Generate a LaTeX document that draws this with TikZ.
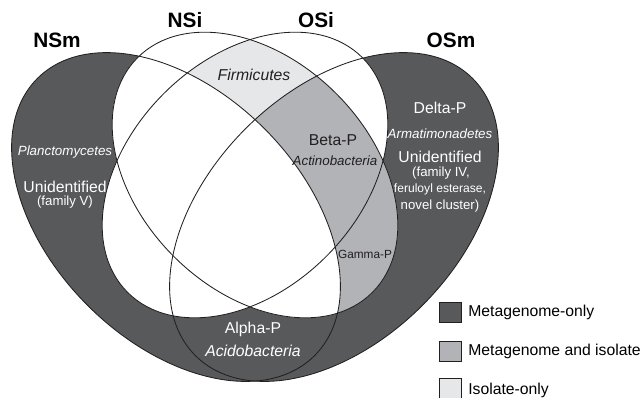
\documentclass[tikz,border=0pt]{standalone}
\usepackage{fontspec}
\setmainfont{Liberation Sans}
\definecolor{metaonly}{HTML}{58595B}
\definecolor{metaiso}{HTML}{B1B3B6}
\definecolor{isoonly}{HTML}{E6E7E8}
\definecolor{ink}{HTML}{231F20}
\newcommand{\ellNSm}{(176,217) ellipse [x radius=196, y radius=125]}
\newcommand{\ellOSm}{(334,217) ellipse [x radius=196, y radius=125]}
\newcommand{\ellNSi}{(255,175) ellipse [x radius=166, y radius=115]}
\newcommand{\ellOSi}{(245,175) ellipse [x radius=166, y radius=115]}

\begin{document}
\begin{tikzpicture}[x=0.025cm, y=-0.025cm,
  nsm/.style={rotate around={-45:(176,217)}},
  osm/.style={rotate around={45:(334,217)}},
  nsi/.style={rotate around={-45:(255,175)}},
  osi/.style={rotate around={45:(245,175)}},
  rim/.style={draw=ink, line width=0.6pt},
  setlab/.style={anchor=base, inner sep=0pt, font=\fontsize{14.8}{16}\selectfont\bfseries},
  big/.style={anchor=base, inner sep=0pt, font=\fontsize{11.2}{13}\selectfont},
  small/.style={anchor=base, inner sep=0pt, font=\fontsize{9.4}{11}\selectfont},
  legbox/.style={draw=ink, line width=0.5pt, minimum width=0.55cm, minimum height=0.5cm, inner sep=0pt}]
\useasboundingbox (0,0) rectangle (643,397);
\clip (0,0) rectangle (643,397);
\fill[metaonly, nsm] \ellNSm;
\fill[metaonly, osm] \ellOSm;
\fill[white, nsi] \ellNSi;
\fill[white, osi] \ellOSi;
\begin{scope}
  \clip[nsi] \ellNSi;
  \fill[isoonly, osi] \ellOSi;
  \fill[metaiso, osm] \ellOSm;
  \fill[white, nsm] \ellNSm;
\end{scope}
\path[rim, nsm] \ellNSm;
\path[rim, osm] \ellOSm;
\path[rim, nsi] \ellNSi;
\path[rim, osi] \ellOSi;

\node[setlab] (NSm) at (57,47) {NSm};
\node[setlab] (NSi) at (185,27) {NSi};
\node[setlab] (OSi) at (316,27) {OSi};
\node[setlab] (OSm) at (451,47) {OSm};

\node[big, text=ink] (firm) at (254,80) {\itshape Firmicutes};
\node[big, text=ink] (beta) at (333,145) {Beta-P};
\node[small, text=ink, font=\fontsize{9.5}{11}\selectfont\itshape] (actino) at (335,165) {Actinobacteria};
\node[small, text=ink, font=\fontsize{8.4}{10}\selectfont] (gamma) at (365,258) {Gamma-P};

\node[small, text=white, font=\fontsize{9.5}{11}\selectfont\itshape] (plancto) at (65,155) {Planctomycetes};
\node[big, text=white] (unidN) at (65,192) {Unidentified};
\node[small, text=white] (famV) at (65,205) {(family V)};

\node[big, text=white] (delta) at (440,113) {Delta-P};
\node[small, text=white, font=\fontsize{9.5}{11}\selectfont\itshape] (armati) at (440,138) {Armatimonadetes};
\node[big, text=white] (unidO) at (440,162) {Unidentified};
\node[small, text=white] (famIV) at (441,176) {(family IV,};
\node[small, text=white, font=\fontsize{8.6}{10}\selectfont] (ferul) at (440,192) {feruloyl esterase,};
\node[small, text=white] (novel) at (440,209) {novel cluster)};

\node[big, text=white] (alpha) at (253,333) {Alpha-P};
\node[big, text=white] (acido) at (253,356) {\itshape Acidobacteria};

\node[legbox, fill=metaonly] (keyA) at (450,312) {};
\node[legbox, fill=metaiso] (keyB) at (450,351.5) {};
\node[legbox, fill=isoonly] (keyC) at (450,388.5) {};
\node[big, anchor=base west] (txtA) at (468,316.5) {Metagenome-only};
\node[big, anchor=base west] (txtB) at (468,355.5) {Metagenome and isolate};
\node[big, anchor=base west] (txtC) at (468,394) {Isolate-only};
\end{tikzpicture}
\end{document}
